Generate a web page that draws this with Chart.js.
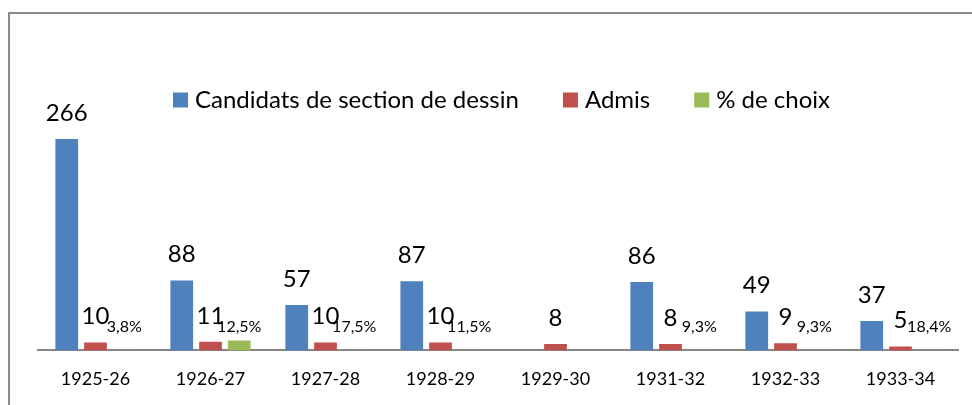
<!DOCTYPE html>
<html>
<head>
<meta charset="utf-8">
<script src="https://cdn.jsdelivr.net/npm/chart.js@4/dist/chart.umd.min.js"></script>
<style>
  body { margin: 0; background: #fff; overflow: hidden; }
  #cadre { position: absolute; left: 8px; top: 12px; width: 2000px; height: 1000px;
           border-left: 2px solid #8c8c8c; border-top: 2px solid #8c8c8c; }
  #mycanvas { position: absolute; left: 0; top: 0; }
</style>
</head>
<body>
<div id="cadre"></div>
<canvas id="mycanvas" width="972" height="422"></canvas>
<script>
var annees = ['1925-26', '1926-27', '1927-28', '1928-29', '1929-30', '1931-32', '1932-33', '1933-34'];
var candidats = [266, 88, 57, 87, null, 86, 49, 37];
var admis = [10, 11, 10, 10, 8, 8, 9, 5];
// stored as in the sheet: fractions, except 1926-27 which was typed as 12,5
var choix = [0.038, 12.5, 0.175, 0.115, null, 0.093, 0.093, 0.184];

var police = 'Lato, "Open Sans", sans-serif';

function pourcent(v) {
  var p = v < 1 ? v * 100 : v;
  return p.toFixed(1).replace('.', ',') + '%';
}

// values written over each bar
var etiquettes = {
  id: 'etiquettes',
  afterDatasetsDraw: function(chart) {
    var ctx = chart.ctx;
    var zero = chart.scales.y.getPixelForValue(0);
    ctx.save();
    ctx.fillStyle = '#000';
    ctx.textAlign = 'center';
    ctx.textBaseline = 'alphabetic';
    chart.data.datasets.forEach(function(ds, i) {
      var meta = chart.getDatasetMeta(i);
      meta.data.forEach(function(bar, j) {
        var v = ds.data[j];
        if (v === null) return;
        if (i == 2) {
          ctx.font = '16px ' + police;
          ctx.fillText(pourcent(v), bar.x, zero - 18);
        } else {
          ctx.font = '24px ' + police;
          ctx.fillText(String(v), bar.x, bar.y - 18);
        }
      });
    });
    ctx.restore();
  }
};

// legend row above the bars
var legende = {
  id: 'legende',
  afterDraw: function(chart) {
    var ctx = chart.ctx;
    var x = 173, y = 100;
    ctx.save();
    ctx.font = '24px ' + police;
    ctx.textBaseline = 'middle';
    ctx.textAlign = 'left';
    chart.data.datasets.forEach(function(ds) {
      ctx.fillStyle = ds.backgroundColor;
      ctx.fillRect(x, y - 7.5, 15, 15);
      ctx.fillStyle = '#000';
      ctx.fillText(ds.label, x + 22, y);
      x += 22 + ctx.measureText(ds.label).width + 44;
    });
    ctx.restore();
  }
};

var chartdata = {
  labels: annees,
  datasets: [
    {
      label: 'Candidats de section de dessin',
      backgroundColor: '#4F81BD',
      data: candidats
    },
    {
      label: 'Admis',
      backgroundColor: '#C0504D',
      data: admis
    },
    {
      label: '% de choix',
      backgroundColor: '#9BBB59',
      data: choix
    }
  ]
};

var ctx = document.getElementById('mycanvas');

var graphe = new Chart(ctx, {
  type: 'bar',
  data: chartdata,
  options: {
    responsive: false,
    animation: false,
    devicePixelRatio: 1,
    layout: { padding: { top: 112, left: 38, right: 14, bottom: 14 } },
    datasets: {
      bar: { categoryPercentage: 0.75, barPercentage: 0.79, borderWidth: 0 }
    },
    plugins: {
      legend: { display: false },
      tooltip: { enabled: false }
    },
    scales: {
      y: { display: false, min: 0, max: 300 },
      x: {
        grid: { display: false, drawTicks: false },
        border: { display: true, color: '#868686', width: 2 },
        ticks: { color: '#000', padding: 18, font: { family: police, size: 18 } }
      }
    }
  },
  plugins: [etiquettes, legende]
});
</script>
</body>
</html>
